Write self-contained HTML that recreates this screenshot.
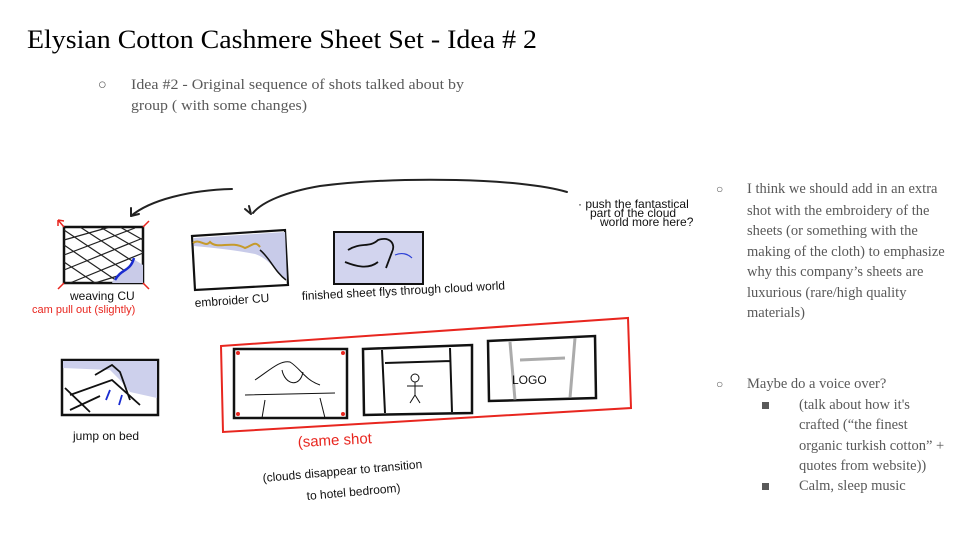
<!DOCTYPE html>
<html><head><meta charset="utf-8"><style>
html,body{margin:0;padding:0;background:#fff;}
svg{display:block;}
.s{font-family:"Liberation Serif",serif;fill:#595959;font-size:14.5px;}
.h{font-family:"Liberation Sans",sans-serif;fill:#111;font-size:12px;}
.r{font-family:"Liberation Sans",sans-serif;fill:#e8261f;}
</style></head><body>
<svg width="960" height="540" viewBox="0 0 960 540" xmlns="http://www.w3.org/2000/svg">
<rect width="960" height="540" fill="#fff"/>
<text x="27" y="48" font-family="Liberation Serif,serif" font-size="26" fill="#000" textLength="510" lengthAdjust="spacingAndGlyphs">Elysian Cotton Cashmere Sheet Set - Idea # 2</text>
<text x="98" y="89" class="s" font-size="13">○</text>
<text x="131" y="89" class="s" textLength="333" lengthAdjust="spacingAndGlyphs">Idea #2 - Original sequence of shots talked about by</text>
<text x="131" y="110" class="s" textLength="176" lengthAdjust="spacingAndGlyphs">group ( with some changes)</text>

<g class="s">
<text x="716" y="193" font-size="12">○</text>
<text x="747" y="193">I think we should add in an extra</text>
<text x="747" y="215">shot with the embroidery of the</text>
<text x="747" y="235">sheets (or something with the</text>
<text x="747" y="256">making of the cloth) to emphasize</text>
<text x="747" y="276">why this company’s sheets are</text>
<text x="747" y="297">luxurious (rare/high quality</text>
<text x="747" y="317">materials)</text>
<text x="716" y="388" font-size="12">○</text>
<text x="747" y="388">Maybe do a voice over?</text>
<rect x="762" y="402" width="7" height="7" fill="#595959"/>
<text x="799" y="409"> (talk about how it's</text>
<text x="799" y="429">crafted  (“the finest</text>
<text x="799" y="450">organic turkish cotton” +</text>
<text x="799" y="470">quotes from website))</text>
<rect x="762" y="483" width="7" height="7" fill="#595959"/>
<text x="799" y="490">Calm, sleep music</text>
</g>

<g fill="none" stroke="#222" stroke-width="2" stroke-linecap="round">
<path d="M232 189 C190 190 150 200 131 216"/>
<path d="M131 216 L131 208 M131 216 L139 214"/>
<path d="M567 192 C520 178 400 176 320 186 C285 192 262 202 253 213"/>
<path d="M251 214 L245 209 M251 214 L249 206"/>
</g>
<text x="578" y="208" class="h" font-size="8">· push the fantastical</text>
<text x="590" y="217" class="h" font-size="8">part of the cloud</text>
<text x="600" y="226" class="h" font-size="8">world  more here?</text>

<g>
<rect x="64" y="227" width="79" height="56" fill="#fff" stroke="#111" stroke-width="2.5"/>
<g stroke="#222" stroke-width="1.2">
<path d="M64 240 L110 227 M64 255 L135 228 M64 270 L143 238 M70 283 L143 253 M95 283 L143 268 M64 230 L143 283 M64 245 L120 283 M64 262 L95 283 M80 227 L143 268 M100 227 L143 252 M120 227 L143 240"/>
</g>
<path d="M112 283 C118 270 128 270 135 260 L143 265 L143 283Z" fill="#c9cbe8"/>
<path d="M115 280 C122 268 130 272 134 258" stroke="#1a2cd0" stroke-width="2.5" fill="none"/>
<g stroke="#e8261f" stroke-width="1.5" fill="none">
<path d="M64 227 L58 220 M58 220 L58 226 M58 220 L64 221 M143 227 L149 221 M64 283 L58 289 M143 283 L149 289"/>
</g>
</g>
<text x="70" y="300" class="h" font-size="13">weaving CU</text>
<text x="32" y="313" class="r" font-size="11">cam pull out (slightly)</text>

<path d="M192 236 L285 230 L288 285 L195 290Z" fill="#fff" stroke="#111" stroke-width="2.2"/>
<path d="M194 238 L285 232 L287 280 C275 270 268 258 255 254 C235 250 215 248 194 246Z" fill="#c8cbe9"/>
<path d="M193 243 C200 238 205 248 210 242 C218 250 230 240 245 248 C252 246 255 240 260 247" stroke="#c59a2b" stroke-width="2" fill="none"/>
<path d="M260 250 C270 258 275 272 286 280" stroke="#111" stroke-width="1.5" fill="none"/>
<text x="195" y="307" class="h" font-size="12" transform="rotate(-4 195 307)">embroider CU</text>

<rect x="334" y="232" width="89" height="52" fill="#d2d4ee" stroke="#111" stroke-width="2"/>
<path d="M348 250 C360 242 370 248 378 240 C390 236 396 244 392 252 L386 268 M345 262 C355 266 368 270 378 262" stroke="#111" stroke-width="1.8" fill="none"/>
<path d="M395 255 C402 252 408 254 412 258" stroke="#2b3fd6" stroke-width="1.2" fill="none"/>
<text x="302" y="300" class="h" font-size="11.5" transform="rotate(-3 302 300)">finished sheet flys through   cloud world</text>

<path d="M62 360 L158 360 L158 415 L62 415Z" fill="#fff" stroke="#111" stroke-width="2.5"/>
<path d="M63 361 L157 361 L157 398 L130 392 L120 380 L110 370 L63 368Z" fill="#cdd0ec"/>
<path d="M70 395 L112 380 L140 405 M70 410 L100 396 M65 388 L90 412 M95 375 L112 365 L120 372 L130 400" stroke="#111" stroke-width="1.8" fill="none"/>
<path d="M110 390 L106 400 M122 395 L119 405" stroke="#1a2cd0" stroke-width="1.8"/>
<text x="73" y="440" class="h" font-size="12">jump on bed</text>

<path d="M221 346 L628 318 L631 408 L223 432Z" fill="none" stroke="#e8261f" stroke-width="2"/>
<rect x="234" y="349" width="113" height="69" fill="#fff" stroke="#111" stroke-width="2.5"/>
<path d="M255 380 C270 370 280 360 290 362 C300 368 305 380 320 385 M245 395 L335 393 M265 400 L262 418 M320 398 L325 418 M282 370 C285 385 300 388 303 372" stroke="#111" stroke-width="1" fill="none"/>
<g fill="#e8261f"><circle cx="238" cy="353" r="2"/><circle cx="343" cy="353" r="2"/><circle cx="238" cy="414" r="2"/><circle cx="343" cy="414" r="2"/></g>
<path d="M363 349 L472 345 L472 413 L364 415Z" fill="#fff" stroke="#111" stroke-width="2.5"/>
<path d="M382 350 L385 413 M450 348 L452 412 M385 363 L450 361" stroke="#111" stroke-width="2" fill="none"/>
<circle cx="415" cy="378" r="4" fill="none" stroke="#111"/><path d="M415 382 L415 395 M407 386 L423 386 M415 395 L410 403 M415 395 L420 403" stroke="#111" fill="none"/>
<path d="M488 341 L595 336 L596 398 L489 401Z" fill="#fff" stroke="#111" stroke-width="2.5"/>
<path d="M510 342 L515 400 M575 338 L570 398 M520 360 L565 358" stroke="#888" stroke-width="3" fill="none" opacity="0.7"/>
<text x="512" y="384" class="h" font-size="17">LOGO</text>

<text x="298" y="447" class="r" font-size="15" transform="rotate(-3 298 447)">(same shot</text>
<text x="263" y="482" class="h" font-size="12" transform="rotate(-5 263 482)">(clouds disappear  to transition</text>
<text x="307" y="500" class="h" font-size="12" transform="rotate(-5 307 500)">to hotel  bedroom)</text>
</svg>
</body></html>
